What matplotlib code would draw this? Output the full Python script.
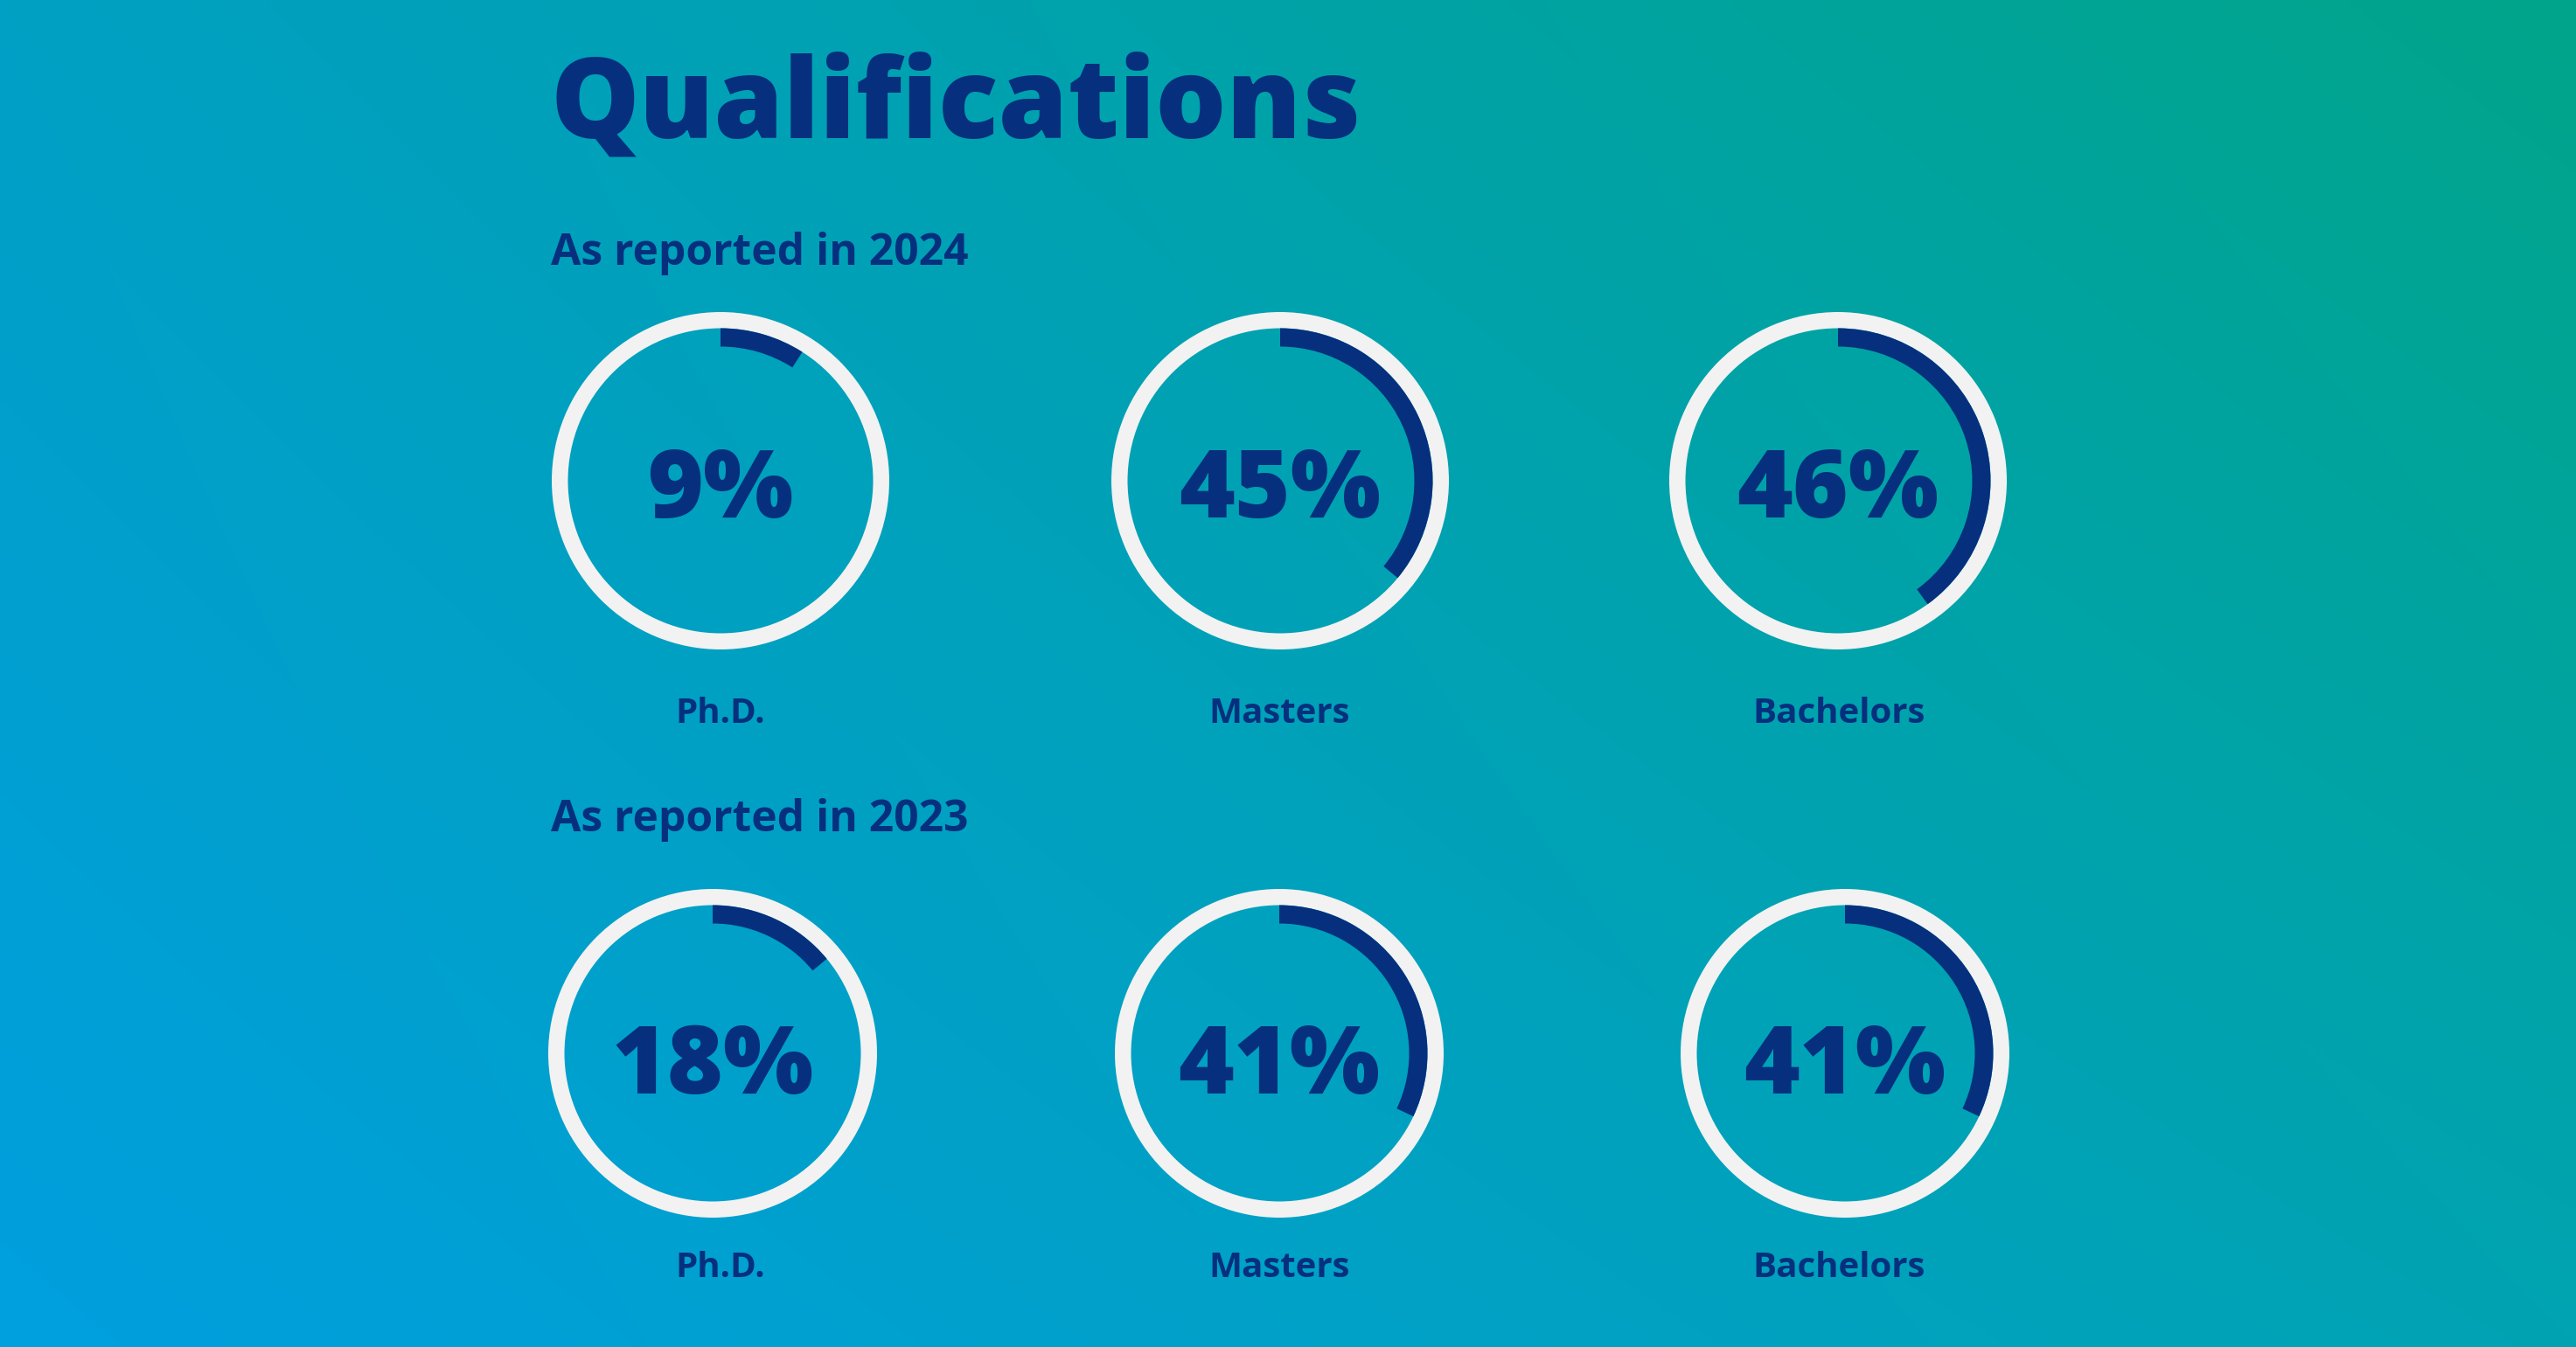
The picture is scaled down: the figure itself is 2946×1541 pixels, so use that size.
import matplotlib.pyplot as plt
import numpy as np
from matplotlib.patches import Wedge
from matplotlib.colors import to_rgb

# data
title = "Qualifications"
years = ["2024", "2023"]
categories = ["Ph.D.", "Masters", "Bachelors"]
share_2024 = [9, 45, 46]
share_2023 = [18, 41, 41]
# how far round the dark arc really goes in the picture (% of the circle)
arc_2024 = [9, 36, 40]
arc_2023 = [14, 32, 32]

W, H = 2946, 1541
navy = '#06307e'
ring_col = '#f2f2f2'

fig = plt.figure(figsize=(W / 100, H / 100), dpi=100)
ax = fig.add_axes([0, 0, 1, 1])

# diagonal gradient background, blue bottom left -> green top right
tl, tr, bl, br = [np.array(to_rgb(c)) for c in ('#00a0c4', '#00a58a', '#009fdf', '#00a3b2')]
U, V = np.meshgrid(np.linspace(0, 1, 300), np.linspace(0, 1, 160))
U = U[..., None]
V = V[..., None]
bg = tl * (1 - U) * (1 - V) + tr * U * (1 - V) + bl * (1 - U) * V + br * U * V
ax.imshow(bg, extent=(0, W, H, 0), aspect='auto', interpolation='bilinear', zorder=0)
ax.set_xlim(0, W)
ax.set_ylim(H, 0)
ax.set_axis_off()

renderer = fig.canvas.get_renderer()


def fit_width(t, target):
    bb = t.get_window_extent(renderer)
    t.set_fontsize(t.get_fontsize() * target / bb.width)
    return t.get_fontsize()


heavy = dict(family=['Open Sans', 'DejaVu Sans'], weight='extra bold', color=navy)
sans = dict(family=['Open Sans', 'DejaVu Sans'], weight='bold', color=navy)

t = ax.text(629, 157, title, ha='left', va='baseline', fontsize=100, **heavy)
fit_width(t, 928)

# one row of rings per year
rows = [
    dict(year=years[0], vals=share_2024, arcs=arc_2024, cy=550, xs=[824, 1464, 2102], r=193,
         sub_y=303, pct_y=592, lab_y=827),
    dict(year=years[1], vals=share_2023, arcs=arc_2023, cy=1205, xs=[815, 1463, 2110], r=188,
         sub_y=951, pct_y=1251, lab_y=1461),
]
label_x = [824, 1463, 2103]
ring_w = 18.5
arc_w = 21

# font sizes from one sample each
probe = ax.text(0, 0, "45%", fontsize=80, **heavy)
pct_fs = fit_width(probe, 231)
probe.remove()
probe = ax.text(0, 0, "Masters", fontsize=30, **sans)
lab_fs = fit_width(probe, 162)
probe.remove()
probe = ax.text(0, 0, "As reported in 2024", fontsize=36, **sans)
sub_fs = fit_width(probe, 478)
probe.remove()

for row in rows:
    ax.text(630, row['sub_y'], "As reported in " + row['year'], ha='left', va='baseline',
            fontsize=sub_fs, **sans)
    for i, cat in enumerate(categories):
        cx = row['xs'][i]
        cy = row['cy']
        ax.add_patch(Wedge((cx, cy), row['r'], 0, 360, width=ring_w,
                           facecolor=ring_col, edgecolor='none', zorder=2))
        ax.add_patch(Wedge((cx, cy), row['r'] - ring_w, -90, -90 + 3.6 * row['arcs'][i],
                           width=arc_w, facecolor=navy, edgecolor='none', zorder=3))
        ax.text(cx, row['pct_y'], f"{row['vals'][i]}%", ha='center', va='baseline',
                fontsize=pct_fs, **heavy)
        ax.text(label_x[i], row['lab_y'], cat, ha='center', va='baseline',
                fontsize=lab_fs, **sans)

plt.savefig('out.png', dpi=100)
